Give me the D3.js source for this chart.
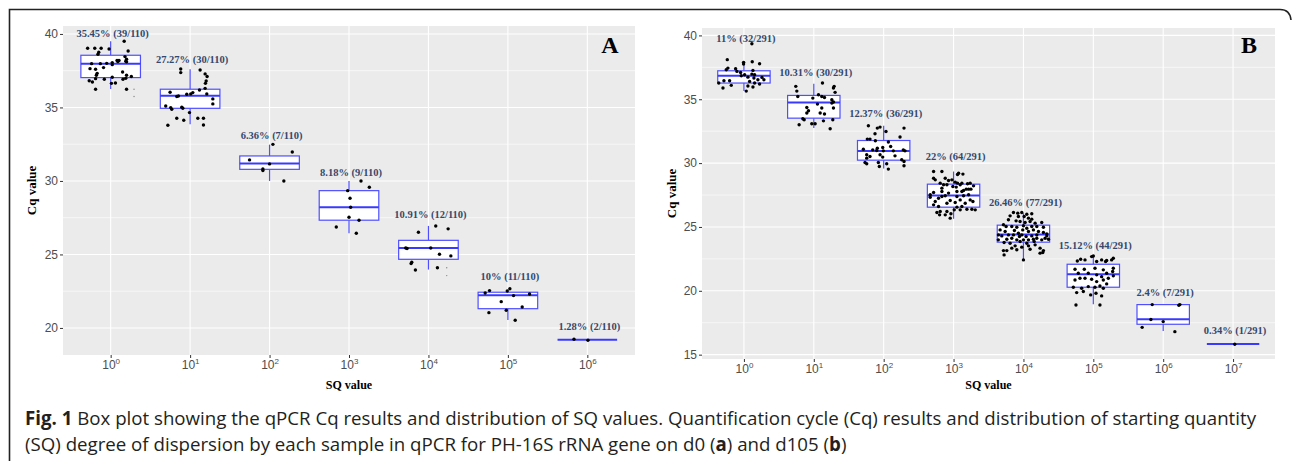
<!DOCTYPE html>
<html>
<head>
<meta charset="utf-8">
<script src="https://cdn.jsdelivr.net/npm/d3@7"></script>
<style>
  body { margin: 0; background: #fff; }
  svg { display: block; }
</style>
</head>
<body>
<svg id="fig" width="1292" height="461"></svg>
<script>
// ---- data: panel A (d0) ----
const sqExpA = [0, 1, 2, 3, 4, 5, 6];
const lowA = [36.26, 33.86, 30.0, 26.44, 23.97, 20.54, 19.2];
const q1A  = [37.03, 34.94, 30.79, 27.33, 24.67, 21.31, 19.2];
const medA = [37.98, 35.8, 31.18, 28.21, 25.44, 22.22, 19.2];
const q3A  = [38.55, 36.24, 31.7, 29.34, 25.96, 22.43, 19.2];
const highA = [39.5, 37.6, 32.47, 30.0, 26.94, 22.43, 19.2];
const labelA = ["35.45% (39/110)", "27.27% (30/110)", "6.36% (7/110)", "8.18% (9/110)",
                "10.91% (12/110)", "10% (11/110)", "1.28% (2/110)"];
const labelCqA = [40.05, 38.3, 33.1, 30.6, 27.7, 23.5, 20.1];
// jittered samples: [offset in category steps, Cq]
const pointsA = [
  [[-0.29,39.03],[-0.2,39.03],[-0.12,39.03],[-0.02,38.98],[-0.15,38.75],[-0.16,38.62],[0.17,39.5],[0.22,38.84],
   [0.18,38.46],[0.2,38.28],[0.105,38.19],[0.19,38.15],[0.09,38.12],[0.02,38.05],[0.02,37.91],[-0.24,37.98],
   [-0.13,37.98],[-0.26,37.64],[-0.19,37.6],[-0.09,37.71],[-0.17,37.32],[-0.18,37.19],[-0.19,36.96],[-0.27,36.82],
   [-0.23,36.73],[-0.08,36.92],[0.02,37.05],[0.01,36.64],[0.06,36.66],[0.155,36.92],[0.19,36.98],[0.26,37.1],
   [0.15,37.41],[0.2,37.19],[-0.19,36.24],[0.2,36.24],[0.08,38.19],[0.2,38.1],[-0.05,38.0]],
  [[-0.118,37.62],[-0.118,37.37],[0.126,37.55],[0.189,37.28],[0.214,37.1],[0.202,36.8],[0.193,36.64],[0.189,36.3],
   [0.118,36.19],[0.034,36.01],[0.008,35.92],[-0.042,35.9],[-0.147,35.78],[-0.168,35.74],[-0.252,36.03],[0.21,35.92],
   [0.286,35.58],[0.286,35.24],[-0.307,35.1],[-0.244,34.99],[-0.231,34.87],[-0.105,35.01],[-0.092,34.94],[-0.008,34.65],
   [-0.168,34.26],[-0.08,34.13],[0.097,34.26],[0.168,34.26],[0.168,33.81],[-0.28,33.79]],
  [[0.042,32.49],[0.286,31.97],[-0.252,31.43],[0,31.16],[-0.084,30.82],[-0.084,30.71],[0.18,30.0]],
  [[0.151,30.0],[0.256,29.57],[-0.017,29.34],[0.013,28.82],[0.021,28.21],[0,27.53],[0.126,27.33],[-0.16,26.87],[0.092,26.44]],
  [[-0.126,26.51],[0.092,26.94],[0.248,26.74],[-0.286,25.44],[0.029,25.44],[0.139,25.01],[0.282,24.9],[-0.21,24.47],
   [-0.218,24.38],[0.113,24.1],[-0.164,23.94],[-0.269,25.4]],
  [[-0.286,22.38],[-0.231,22.54],[-0.008,22.51],[0.025,22.67],[0.071,22.2],[0.273,22.31],[-0.084,21.79],[0.18,21.43],
   [-0.239,21.04],[-0.021,21.2],[0.092,20.52]],
  [[-0.168,19.23],[0.008,19.16]]
];
const faintA = [[0, 0.294, 36.24], [0, 0.294, 35.74], [4, 0.23, 24.1], [4, 0.23, 23.56]];

// ---- data: panel B (d105) ----
const sqExpB = [0, 1, 2, 3, 4, 5, 6, 7];
const lowB = [35.64, 32.74, 29.58, 25.64, 22.42, 18.95, 16.86, 15.84];
const q1B  = [36.27, 33.52, 30.23, 26.55, 23.81, 20.28, 17.38, 15.84];
const medB = [36.84, 34.75, 30.94, 27.46, 24.41, 21.3, 17.77, 15.84];
const q3B  = [37.23, 35.3, 31.77, 28.35, 25.14, 22.08, 18.92, 15.84];
const highB = [38.0, 36.21, 32.92, 29.34, 26.08, 22.68, 18.92, 15.84];
const labelB = ["11% (32/291)", "10.31% (30/291)", "12.37% (36/291)", "22% (64/291)",
                "26.46% (77/291)", "15.12% (44/291)", "2.4% (7/291)", "0.34% (1/291)"];
const labelCqB = [39.8, 37.13, 33.86, 30.52, 26.94, 23.6, 19.89, 16.88];
const pointsB = [
  [[-0.238,38.1],[-0.229,37.44],[-0.253,37.31],[-0.119,37.39],[-0.1,37.18],[-0.048,37.1],[-0.005,37.76],[-0.005,37.89],
   [0.119,37.94],[0.129,37.26],[0.224,37.78],[0.114,36.97],[0.153,36.92],[0.01,36.92],[-0.038,36.84],[0.057,36.73],
   [0.143,36.66],[0.258,36.71],[0.286,36.53],[0.2,36.53],[0.081,36.4],[0.153,36.27],[0.224,36.19],[-0.36,36.27],
   [-0.286,36.45],[-0.205,36.45],[-0.181,36.09],[-0.3,35.88],[0.057,36.04],[0.129,35.96],[0.033,35.64],[0.114,39.35]],
  [[-0.258,36.01],[-0.243,35.64],[-0.229,35.22],[-0.014,35.09],[0.067,35.35],[0.114,35.22],[0.153,35.14],[0.281,35.88],
   [0.291,36.01],[0.305,35.54],[0.124,36.27],[-0.1,34.36],[-0.1,33.92],[0.114,34.31],[0.153,33.84],[0.258,34.7],
   [0.281,34.31],[0.258,34.96],[-0.157,33.47],[-0.138,33.39],[-0.21,33.0],[-0.029,33.08],[0.019,33.08],[0.138,33.31],
   [0.272,33.39],[0.234,32.69],[0.052,34.62],[-0.076,34.1],[0.091,33.92],[0.281,34.78]],
  [[-0.219,32.92],[-0.091,32.74],[-0.052,32.82],[0.033,32.48],[0.291,32.74],[0.234,32.04],[-0.124,32.3],[-0.234,31.88],
   [-0.196,31.88],[-0.119,31.75],[0.067,31.65],[0.1,31.3],[-0.091,31.17],[-0.014,31.22],[-0.291,31.09],[-0.157,31.04],
   [-0.005,30.96],[0.138,30.96],[0.281,31.04],[0.305,30.96],[-0.243,30.65],[-0.196,30.52],[-0.243,30.39],[-0.052,30.65],
   [-0.014,30.47],[0.162,30.57],[0.258,30.26],[0.291,30.13],[-0.267,30.05],[-0.243,29.95],[-0.076,30.05],[0.043,29.95],
   [-0.062,29.74],[0.067,29.53],[0.291,29.79],[-0.1,30.99]],
  [[-0.286,29.34],[-0.167,29.34],[0.072,29.21],[0.057,29.11],[0.134,29.14],[-0.286,28.82],[-0.262,28.69],[-0.119,28.82],
   [-0.072,28.64],[0.024,28.51],[0.057,28.43],[0.119,28.43],[0.095,28.3],[-0.191,28.43],[-0.143,28.3],[-0.095,28.3],
   [0.2,28.38],[0.238,28.43],[-0.167,28.04],[-0.01,28.17],[0.038,28.12],[0.181,27.96],[0.215,27.96],[0.248,27.96],
   [-0.286,27.7],[-0.167,27.78],[-0.072,27.65],[0.048,27.78],[0.119,27.78],[0.143,27.86],[-0.167,27.38],[-0.334,27.33],
   [-0.215,27.25],[-0.119,27.44],[0.048,27.38],[0.215,27.52],[0.143,27.44],[-0.262,26.99],[-0.048,27.07],[0.024,26.91],
   [0.095,27.12],[0.238,27.12],[0.277,26.99],[-0.095,26.86],[0.167,26.86],[-0.286,26.73],[-0.215,26.6],[0.048,26.55],
   [0.119,26.6],[0.191,26.39],[0.262,26.39],[0.31,26.34],[-0.191,26.21],[-0.238,26.13],[-0.095,26.21],[0.01,26.34],
   [-0.119,25.95],[-0.2,25.95],[-0.048,25.69],[-0.038,26.03],[0.095,26.34],[-0.334,27.52],[0.286,28.22],[-0.024,28.69]],
  [[-0.143,26.13],[-0.081,26.08],[-0.024,26.13],[0.048,26.0],[0.119,26.03],[0.01,25.82],[-0.072,25.82],[0.072,25.69],
   [0.119,25.61],[-0.191,25.87],[-0.215,25.56],[-0.105,25.48],[-0.048,25.43],[0.024,25.35],[0.095,25.43],[0.167,25.3],
   [0.262,25.35],[-0.286,25.17],[-0.248,25.04],[-0.167,25.04],[-0.095,24.98],[0,25.09],[0.048,24.9],[0.119,25.04],
   [0.191,25.04],[0.286,24.98],[-0.334,24.77],[-0.262,24.64],[-0.215,24.38],[-0.143,24.38],[-0.072,24.51],[-0.01,24.77],
   [0.072,24.64],[0.143,24.77],[0.215,24.64],[0.286,24.57],[0.334,24.46],[-0.31,24.3],[-0.238,24.04],[-0.167,24.12],
   [-0.095,23.99],[-0.048,23.86],[0,23.99],[0.072,23.99],[0.143,24.04],[0.191,24.12],[0.262,23.99],[0.31,24.12],
   [0.334,24.3],[-0.358,24.38],[-0.277,23.78],[-0.191,23.73],[-0.119,23.52],[-0.024,23.42],[0.072,23.52],[0.167,23.6],
   [0.238,23.34],[0.286,23.15],[-0.167,23.34],[-0.095,23.21],[-0.286,23.15],[-0.238,23.15],[-0.277,22.81],[0.095,23.26],
   [0.238,22.95],[0.277,23.0],[0,22.42],[-0.024,24.38],[0.038,24.25],[0.119,24.3],[0.191,24.38],[-0.129,24.72],
   [-0.057,24.25],[-0.36,23.99],[0.358,24.04],[0.153,23.86],[0.048,23.73]],
  [[-0.229,22.34],[-0.181,22.47],[-0.119,22.42],[-0.024,22.68],[0,22.73],[0.048,22.29],[0.119,22.42],[0.176,22.29],
   [0.191,22.37],[0.262,22.42],[0.286,22.55],[-0.262,21.69],[-0.129,21.69],[0.024,21.77],[0.143,21.64],[0.286,21.77],
   [0.277,21.51],[-0.215,21.38],[-0.072,21.38],[0.048,21.25],[0.191,21.38],[0.119,21.11],[-0.262,20.85],[-0.191,20.98],
   [-0.119,20.98],[-0.024,20.9],[0.048,20.72],[0.143,20.85],[0.215,20.98],[0.286,21.17],[-0.286,20.28],[-0.167,20.2],
   [-0.072,20.33],[0.024,20.28],[0.095,20.38],[0.191,20.54],[-0.238,19.86],[-0.143,19.94],[-0.038,19.68],[0.038,19.81],
   [0.119,19.6],[0.143,20.2],[-0.248,18.89],[0.095,18.89]],
  [[-0.157,18.92],[0.239,18.92],[0.224,18.87],[-0.176,17.75],[0,17.59],[-0.301,17.14],[0.167,16.8]],
  [[0.024,15.81]]
];

const svg = d3.select("#fig");
const boxColor = "#4f4fff";
const labelColor = "#34486e";

// outer frame of the figure
svg.append("path")
  .attr("d", "M9.5,461 L9.5,9.5 L1280,9.5 Q1290,9.5 1291,20")
  .attr("fill", "none")
  .attr("stroke", "#222")
  .attr("stroke-width", 1.6);

function drawPanel(cfg) {
  const g = svg.append("g");
  const cats = cfg.exps.map(String);

  const x = d3.scalePoint().domain(cats).range([cfg.left, cfg.right]).padding(0.6);
  const y = d3.scaleLinear().domain(cfg.yDomain).range([cfg.bottom, cfg.top]);
  const step = x.step();
  const bw = step * 0.75;

  g.append("rect")
    .attr("x", cfg.left).attr("y", cfg.top)
    .attr("width", cfg.right - cfg.left).attr("height", cfg.bottom - cfg.top)
    .attr("fill", "#ebebeb");

  const minor = d3.range(cfg.yTicks[0] - 2.5, cfg.yDomain[1], 5).filter(v => v > cfg.yDomain[0]);
  g.selectAll(".minor").data(minor).enter().append("line")
    .attr("x1", cfg.left).attr("x2", cfg.right)
    .attr("y1", d => y(d)).attr("y2", d => y(d))
    .attr("stroke", "#fff").attr("stroke-width", 0.6);
  g.selectAll(".hgrid").data(cfg.yTicks).enter().append("line")
    .attr("x1", cfg.left).attr("x2", cfg.right)
    .attr("y1", d => y(d)).attr("y2", d => y(d))
    .attr("stroke", "#fff").attr("stroke-width", 1.1);
  g.selectAll(".vgrid").data(cats).enter().append("line")
    .attr("x1", d => x(d)).attr("x2", d => x(d))
    .attr("y1", cfg.top).attr("y2", cfg.bottom)
    .attr("stroke", "#fff").attr("stroke-width", 1.1);

  // boxes
  cats.forEach((c, i) => {
    const cx = x(c);
    g.append("line").attr("x1", cx).attr("x2", cx)
      .attr("y1", y(cfg.high[i])).attr("y2", y(cfg.q3[i]))
      .attr("stroke", boxColor).attr("stroke-width", 1.2);
    g.append("line").attr("x1", cx).attr("x2", cx)
      .attr("y1", y(cfg.q1[i])).attr("y2", y(cfg.low[i]))
      .attr("stroke", boxColor).attr("stroke-width", 1.2);
    g.append("rect")
      .attr("x", cx - bw / 2).attr("y", y(cfg.q3[i]))
      .attr("width", bw).attr("height", Math.max(0, y(cfg.q1[i]) - y(cfg.q3[i])))
      .attr("fill", "#fff").attr("stroke", boxColor).attr("stroke-width", 1.2);
    g.append("line")
      .attr("x1", cx - bw / 2).attr("x2", cx + bw / 2)
      .attr("y1", y(cfg.med[i])).attr("y2", y(cfg.med[i]))
      .attr("stroke", "#3a3aff").attr("stroke-width", 2);
  });

  // jittered samples
  const flat = [];
  cfg.points.forEach((arr, i) => arr.forEach(p => flat.push({ c: cats[i], dx: p[0], v: p[1] })));
  g.selectAll(".pt").data(flat).enter().append("circle")
    .attr("cx", d => x(d.c) + d.dx * step)
    .attr("cy", d => y(d.v))
    .attr("r", 1.7)
    .attr("fill", "#000");

  if (cfg.faint) {
    g.selectAll(".faint").data(cfg.faint).enter().append("circle")
      .attr("cx", d => x(cats[d[0]]) + d[1] * step)
      .attr("cy", d => y(d[2]))
      .attr("r", 0.7)
      .attr("fill", "#888");
  }

  // percentage labels
  g.selectAll(".lab").data(cfg.labels).enter().append("text")
    .attr("x", (d, i) => x(cats[i]) + 2)
    .attr("y", (d, i) => y(cfg.labelCq[i]))
    .attr("dy", "0.35em")
    .attr("text-anchor", "middle")
    .attr("font-family", "'Liberation Serif', 'Times New Roman', serif")
    .attr("font-weight", "bold")
    .attr("font-size", 10.5)
    .attr("fill", labelColor)
    .text(d => d);

  // panel letter
  g.append("text")
    .attr("x", cfg.letterX).attr("y", 53)
    .attr("text-anchor", "middle")
    .attr("font-family", "'Liberation Serif', 'Times New Roman', serif")
    .attr("font-weight", "bold")
    .attr("font-size", 24)
    .attr("fill", "#000")
    .text(cfg.letter);

  // y axis
  const yAxis = d3.axisLeft(y).tickValues(cfg.yTicks).tickSize(3).tickPadding(2);
  const ya = g.append("g").attr("transform", `translate(${cfg.left},0)`).call(yAxis);
  ya.select(".domain").remove();
  ya.selectAll("line").attr("stroke", "#333");
  ya.selectAll("text")
    .attr("font-family", "'Liberation Sans', Arial, sans-serif")
    .attr("font-size", 12).attr("fill", "#4d4d4d");

  // x axis with superscript exponents
  const xAxis = d3.axisBottom(x).tickSize(3).tickPadding(3).tickFormat("");
  const xa = g.append("g").attr("transform", `translate(0,${cfg.bottom})`).call(xAxis);
  xa.select(".domain").remove();
  xa.selectAll("line").attr("stroke", "#333");
  xa.selectAll(".tick").each(function (d) {
    const t = d3.select(this).append("text")
      .attr("y", 14).attr("text-anchor", "middle")
      .attr("font-family", "'Liberation Sans', Arial, sans-serif")
      .attr("font-size", 12).attr("fill", "#4d4d4d");
    t.append("tspan").text("10");
    t.append("tspan").attr("dy", -5).attr("font-size", 8).text(d);
  });

  // axis titles
  g.append("text")
    .attr("transform", `translate(${cfg.yTitleX},${(cfg.top + cfg.bottom) / 2}) rotate(-90)`)
    .attr("text-anchor", "middle")
    .attr("font-family", "'Liberation Serif', 'Times New Roman', serif")
    .attr("font-weight", "bold").attr("font-size", 13).attr("fill", "#000")
    .text("Cq value");
  g.append("text")
    .attr("x", (cfg.left + cfg.right) / 2).attr("y", 389)
    .attr("text-anchor", "middle")
    .attr("font-family", "'Liberation Serif', 'Times New Roman', serif")
    .attr("font-weight", "bold").attr("font-size", 12).attr("fill", "#000")
    .text("SQ value");
}

drawPanel({
  exps: sqExpA, low: lowA, q1: q1A, med: medA, q3: q3A, high: highA,
  points: pointsA, faint: faintA, labels: labelA, labelCq: labelCqA,
  left: 63, right: 635, top: 26, bottom: 355,
  yDomain: [18.16, 40.54], yTicks: [20, 25, 30, 35, 40],
  letter: "A", letterX: 610, yTitleX: 36
});

drawPanel({
  exps: sqExpB, low: lowB, q1: q1B, med: medB, q3: q3B, high: highB,
  points: pointsB, labels: labelB, labelCq: labelCqB,
  left: 702, right: 1275, top: 28, bottom: 359,
  yDomain: [14.66, 40.58], yTicks: [15, 20, 25, 30, 35, 40],
  letter: "B", letterX: 1249, yTitleX: 676
});

// caption
const cap = svg.append("g")
  .attr("font-family", "'Open Sans', 'Noto Sans', sans-serif")
  .attr("font-size", 16.5)
  .attr("fill", "#231f20");
const l1 = cap.append("text").attr("x", 25).attr("y", 425);
l1.append("tspan").attr("font-weight", "bold").text("Fig. 1");
l1.append("tspan").text(" Box plot showing the qPCR Cq results and distribution of SQ values. Quantification cycle (Cq) results and distribution of starting quantity");
const l2 = cap.append("text").attr("x", 25).attr("y", 451);
l2.append("tspan").text("(SQ) degree of dispersion by each sample in qPCR for PH-16S rRNA gene on d0 (");
l2.append("tspan").attr("font-weight", "bold").text("a");
l2.append("tspan").text(") and d105 (");
l2.append("tspan").attr("font-weight", "bold").text("b");
l2.append("tspan").text(")");
// scale caption so the first line spans the same width as in the figure
const w1 = l1.node().getComputedTextLength();
cap.attr("font-size", 16.5 * 1232 / w1);
</script>
</body>
</html>
